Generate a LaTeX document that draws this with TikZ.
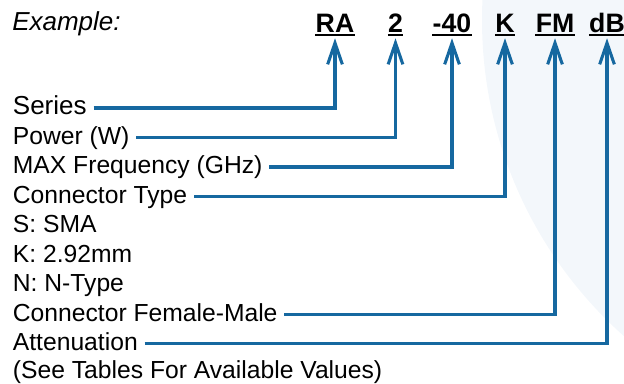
\documentclass[tikz,border=0pt]{standalone}
\usepackage{fontspec}
\setmainfont{Liberation Sans}
\usetikzlibrary{arrows.meta}
\definecolor{lineblue}{RGB}{22,104,160}
\definecolor{bgblue}{RGB}{243,247,251}
\begin{document}
\begin{tikzpicture}[x=0.75pt,y=-0.75pt,
  lbl/.style={font=\fontsize{18.5}{20}\selectfont, anchor=west, inner xsep=5pt, inner ysep=0pt, text height=10pt, text depth=0pt},
  tok/.style={font=\fontsize{20}{22}\selectfont\bfseries, anchor=base, inner sep=0pt, text height=14pt, text depth=0pt},
  conn/.style={draw=lineblue, line width=2.3pt, -{Straight Barb[length=16pt,width=11pt]}, shorten >=4.5pt, line join=miter},
  ul/.style={line width=1.5pt}]
\useasboundingbox (0,0) rectangle (624,383);
\begin{scope}
  \clip (0,0) rectangle (624,383);
  \fill[bgblue] (905,20) circle[radius=423];
\end{scope}
\node[font=\fontsize{19.5}{21}\selectfont\itshape, anchor=base west, inner sep=0pt] (ex) at (12,30) {Example:};
\node[tok] (tRA) at (335,32) {RA};
\node[tok] (t2) at (395.5,32) {2};
\node[tok] (t40) at (452,32) {-40};
\node[tok] (tK) at (505,32) {K};
\node[tok] (tFM) at (555,32) {FM};
\node[tok] (tdB) at (607,32) {dB};
\foreach \t in {tRA,t2,t40,tK,tFM,tdB}
  \draw[ul] ([yshift=-2.3pt]\t.south west) -- ([yshift=-2.3pt]\t.south east);
\node[lbl, font=\fontsize{19.5}{21}\selectfont] (series) at (6,108) {Series};
\node[lbl] (power) at (6,137.5) {Power (W)};
\node[lbl] (maxf) at (6,167) {MAX Frequency (GHz)};
\node[lbl] (ctype) at (6,196.5) {Connector Type};
\node[lbl] (sma) at (6,226) {S: SMA};
\node[lbl] (k292) at (6,255.5) {K: 2.92mm};
\node[lbl] (ntype) at (6,285) {N: N-Type};
\node[lbl] (cfm) at (6,314.5) {Connector Female-Male};
\node[lbl] (att) at (6,343.5) {Attenuation};
\node[lbl] (see) at (6,372) {(See Tables For Available Values)};
\draw[conn] (series.east) -| (tRA.south);
\draw[conn] (power.east) -| (t2.south);
\draw[conn] (maxf.east) -| (t40.south);
\draw[conn] (ctype.east) -| (tK.south);
\draw[conn] (cfm.east) -| (tFM.south);
\draw[conn] (att.east) -| (tdB.south);
\end{tikzpicture}
\end{document}
